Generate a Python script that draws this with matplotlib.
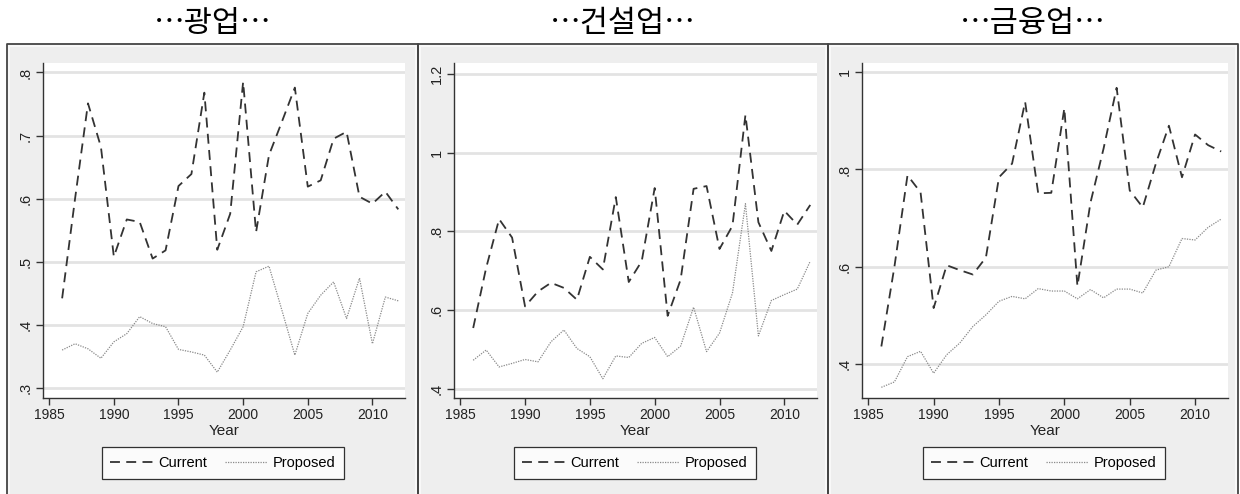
import matplotlib
matplotlib.use("Agg")
import matplotlib.pyplot as plt
from matplotlib.patches import Rectangle
from matplotlib.lines import Line2D

W, H = 1240, 494
years = list(range(1986, 2013))

titles = ["…광업…", "…건설업…", "…금융업…"]

mining_current = [0.442, 0.600, 0.751, 0.682, 0.508, 0.567, 0.563, 0.505, 0.518, 0.620,
                  0.639, 0.768, 0.519, 0.576, 0.785, 0.547, 0.669, 0.722, 0.776, 0.619,
                  0.629, 0.695, 0.706, 0.603, 0.592, 0.611, 0.583]
mining_proposed = [0.360, 0.370, 0.362, 0.347, 0.373, 0.386, 0.413, 0.402, 0.397, 0.361,
                   0.357, 0.352, 0.325, 0.360, 0.397, 0.484, 0.493, 0.423, 0.352, 0.418,
                   0.447, 0.468, 0.410, 0.474, 0.370, 0.444, 0.438]

constr_current = [0.554, 0.707, 0.831, 0.784, 0.609, 0.647, 0.669, 0.656, 0.626, 0.735,
                  0.703, 0.887, 0.671, 0.724, 0.910, 0.585, 0.677, 0.908, 0.915, 0.755,
                  0.814, 1.096, 0.823, 0.750, 0.852, 0.817, 0.867]
constr_proposed = [0.472, 0.498, 0.455, 0.464, 0.474, 0.468, 0.519, 0.549, 0.502, 0.481,
                   0.425, 0.483, 0.479, 0.515, 0.530, 0.481, 0.508, 0.607, 0.494, 0.541,
                   0.643, 0.870, 0.534, 0.624, 0.639, 0.653, 0.724]

fin_current = [0.436, 0.600, 0.788, 0.753, 0.515, 0.603, 0.593, 0.584, 0.619, 0.784,
               0.812, 0.939, 0.751, 0.752, 0.926, 0.560, 0.732, 0.843, 0.968, 0.757,
               0.722, 0.812, 0.890, 0.784, 0.872, 0.850, 0.837]
fin_proposed = [0.352, 0.363, 0.415, 0.426, 0.381, 0.419, 0.443, 0.477, 0.501, 0.529,
                0.539, 0.534, 0.555, 0.550, 0.550, 0.534, 0.553, 0.536, 0.554, 0.554,
                0.546, 0.593, 0.600, 0.658, 0.655, 0.681, 0.698]

yticks = [[0.3, 0.4, 0.5, 0.6, 0.7, 0.8],
          [0.4, 0.6, 0.8, 1.0, 1.2],
          [0.4, 0.6, 0.8, 1.0]]
ytick_labels = [[".3", ".4", ".5", ".6", ".7", ".8"],
                [".4", ".6", ".8", "1", "1.2"],
                [".4", ".6", ".8", "1"]]
ylims = [(0.284, 0.815), (0.376, 1.228), (0.33, 1.019)]
xticks = [1985, 1990, 1995, 2000, 2005, 2010]

series = [(mining_current, mining_proposed),
          (constr_current, constr_proposed),
          (fin_current, fin_proposed)]

# pixel layouts
boxes = [(7, 418), (418, 828), (828, 1238)]
plot_px = [(43, 405), (454, 817), (862, 1228)]
plot_top, plot_bot = 63, 398
legend_cx = [223, 635, 1044]

font = ['Liberation Sans Narrow', 'Liberation Sans', 'DejaVu Sans']
kfont = ['Noto Sans CJK KR', 'DejaVu Sans']

fig = plt.figure(figsize=(W / 100, H / 100), dpi=100)
fig.patch.set_facecolor('white')

def fx(px):
    return px / W

def fy(py):
    return 1 - py / H

for i in range(3):
    bx0, bx1 = boxes[i]
    fig.patches.append(Rectangle((fx(bx0), 0), fx(bx1 - bx0), fy(44),
                                 transform=fig.transFigure, facecolor='#f8f8f8',
                                 edgecolor='none', zorder=-3))
    fig.patches.append(Rectangle((fx(bx0 + 3), 0), fx(bx1 - bx0 - 6), fy(47),
                                 transform=fig.transFigure, facecolor='#eeeeee',
                                 edgecolor='none', zorder=-2))
    fig.add_artist(Line2D([fx(bx0), fx(bx0), fx(bx1), fx(bx1)], [0, fy(44), fy(44), 0],
                          transform=fig.transFigure, color='#444444', lw=1.3, zorder=-1))
    fig.text(fx((bx0 + bx1) / 2), fy(24), titles[i], ha='center', va='center',
             fontsize=22, family=kfont, color='black')

    x0, x1 = plot_px[i]
    ax = fig.add_axes([fx(x0), fy(plot_bot), fx(x1 - x0), (plot_bot - plot_top) / H])
    ax.set_zorder(2)
    ax.set_facecolor('white')
    cur, prop = series[i]
    ax.plot(years, cur, color='#333333', lw=1.3, linestyle=(0, (5.5, 3.5)),
            label='Current', zorder=3)
    ax.plot(years, prop, color='#8a8a8a', lw=0.9, linestyle=(0, (1, 1)),
            label='Proposed', zorder=3)
    ax.set_xlim(1984.52, 2012.52)
    ax.set_ylim(*ylims[i])
    for yt in yticks[i]:
        ax.axhline(yt, color='#e3e3e3', lw=2.0, zorder=1)
    ax.set_yticks(yticks[i])
    ax.set_yticklabels(ytick_labels[i], rotation=90, va='center', family=font,
                       fontsize=10.5, color='#222222')
    ax.set_xticks(xticks)
    ax.set_xticklabels([str(t) for t in xticks], family=font, fontsize=10,
                       color='#222222')
    ax.tick_params(axis='both', direction='out', length=5, width=1, color='#333333', pad=2.5)
    for s in ['top', 'right']:
        ax.spines[s].set_visible(False)
    for s in ['left', 'bottom']:
        ax.spines[s].set_color('#333333')
        ax.spines[s].set_linewidth(1.0)
    ax.set_xlabel('Year', family=font, fontsize=11, labelpad=1, color='#222222')
    leg = ax.legend(loc='center', bbox_to_anchor=(fx(legend_cx[i]), fy(463)),
                    bbox_transform=fig.transFigure, ncol=2, frameon=True,
                    fancybox=False, handlelength=2.9, handletextpad=0.4,
                    columnspacing=1.2, borderpad=0.6,
                    prop={'family': font, 'size': 10.5})
    leg.get_frame().set_edgecolor('black')
    leg.get_frame().set_linewidth(0.9)
    leg.get_frame().set_facecolor('white')

fig.savefig('out.png', dpi=100, facecolor='white')
